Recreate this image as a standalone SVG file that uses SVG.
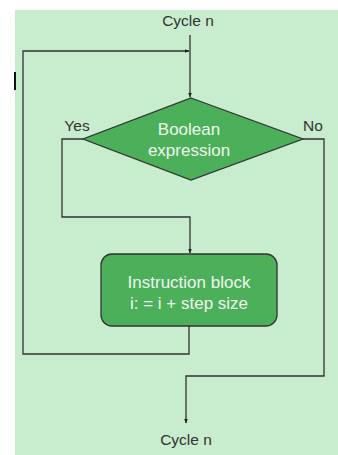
<svg xmlns="http://www.w3.org/2000/svg" width="338" height="455" viewBox="0 0 338 455">
<defs>
<marker id="arr" viewBox="0 0 10 10" refX="9" refY="5" markerWidth="5" markerHeight="5" orient="auto" markerUnits="userSpaceOnUse">
<path d="M0,1 L10,5 L0,9 z" fill="#222"/>
</marker>
<style>
.ln{fill:none;stroke:#333;stroke-width:1.3}
.lbl{font-family:"Liberation Sans",Arial,sans-serif;font-size:15.5px;fill:#333}
.wt{font-family:"Liberation Sans",Arial,sans-serif;font-size:17px;fill:#eef7ee}
.shape{fill:#4caf5a;stroke:#333;stroke-width:1.3}
</style>
</defs>
<rect x="15" y="10" width="323" height="445" fill="#c8ecce"/>
<line x1="15" y1="72" x2="15" y2="90" stroke="#111" stroke-width="2"/>
<g id="connectors">
<path class="ln" d="M190,35 V97" marker-end="url(#arr)"/>
<path class="ln" d="M189,326 V354 H23 V51 H189" marker-end="url(#arr)"/>
<path class="ln" d="M83,139 H62 V217 H190 V253" marker-end="url(#arr)"/>
<path class="ln" d="M303,139 H324 V376 H186 V423" marker-end="url(#arr)"/>
</g>
<g id="start"><text class="lbl" x="188" y="26" text-anchor="middle">Cycle n</text></g>
<g id="decision">
<polygon class="shape" points="191,98 303,139 191,180 83,139"/>
<text class="wt" x="189" y="135" text-anchor="middle">Boolean</text>
<text class="wt" x="189" y="156" text-anchor="middle">expression</text>
</g>
<g id="yes"><text class="lbl" x="77" y="131" text-anchor="middle">Yes</text></g>
<g id="no"><text class="lbl" x="313" y="131" text-anchor="middle">No</text></g>
<g id="instruction">
<rect class="shape" x="101" y="254" width="176" height="72" rx="11"/>
<text class="wt" x="189" y="288" text-anchor="middle">Instruction block</text>
<text class="wt" x="189" y="309" text-anchor="middle">i: = i + step size</text>
</g>
<g id="end"><text class="lbl" x="186" y="445" text-anchor="middle">Cycle n</text></g>
</svg>
